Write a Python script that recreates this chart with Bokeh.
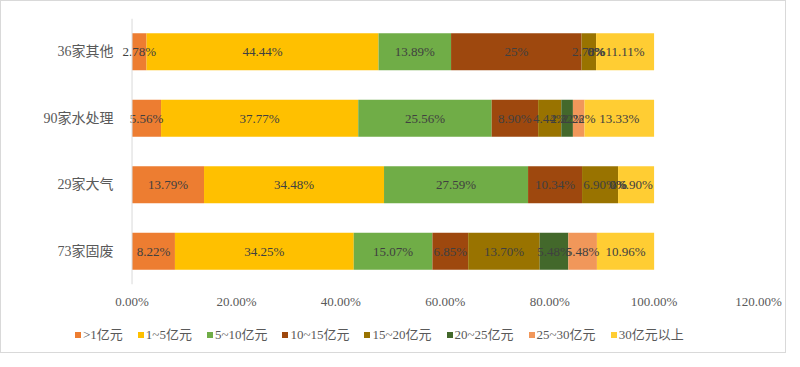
import html
from bokeh.plotting import figure
from bokeh.layouts import column
from bokeh.models import ColumnDataSource, FixedTicker, Range1d, Span, Div
from bokeh.embed import file_html
from bokeh.resources import INLINE
from bokeh.core.properties import value

# ---- data ----
categories = ["73家固废", "29家大气", "90家水处理", "36家其他"]
series_names = [">1亿元", "1~5亿元", "5~10亿元", "10~15亿元", "15~20亿元", "20~25亿元", "25~30亿元", "30亿元以上"]
v_gt1 = [8.22, 13.79, 5.56, 2.78]
v_1_5 = [34.25, 34.48, 37.77, 44.44]
v_5_10 = [15.07, 27.59, 25.56, 13.89]
v_10_15 = [6.85, 10.34, 8.90, 25]
v_15_20 = [13.70, 6.90, 4.44, 2.78]
v_20_25 = [5.48, 0, 2.22, 0]
v_25_30 = [5.48, 0, 2.22, 0]
v_30plus = [10.96, 6.90, 13.33, 11.11]
x_ticks = [0, 20, 40, 60, 80, 100, 120]
x_tick_labels = ["0.00%", "20.00%", "40.00%", "60.00%", "80.00%", "100.00%", "120.00%"]
colors = ["#ED7D31", "#FFC000", "#70AD47", "#9E480E", "#997300", "#43682B", "#F1975A", "#FFCD33"]

series = [v_gt1, v_1_5, v_5_10, v_10_15, v_15_20, v_20_25, v_25_30, v_30plus]
keys = ["s%d" % i for i in range(len(series))]

SERIF = "Liberation Serif, 'Noto Sans CJK SC'"

data = {"cat": categories}
for k, s in zip(keys, series):
    data[k] = s
source = ColumnDataSource(data)

p = figure(width=784, height=320, y_range=categories, x_range=Range1d(-2.4, 120),
           output_backend="svg", toolbar_location=None,
           min_border_left=118, min_border_right=27, min_border_top=17, min_border_bottom=37)

renderers = p.hbar_stack(keys, y="cat", height=0.56, color=colors, source=source, line_color=None)

# vertical axis line at x = 0
p.add_layout(Span(location=0, dimension="height", line_color="#d9d9d9", line_width=1))

def fmt(v):
    if float(v).is_integer():
        return "%d%%" % int(v)
    return "%.2f%%" % v

lx, ly, lt = [], [], []
for ci, c in enumerate(categories):
    left = 0.0
    for s in series:
        v = s[ci]
        lx.append(left + v / 2.0)
        ly.append(c)
        lt.append(fmt(v))
        left += v
lsrc = ColumnDataSource(dict(x=lx, y=ly, t=lt))
p.text(x="x", y="y", text="t", source=lsrc, text_align="center", text_baseline="middle",
       text_font=value(SERIF), text_font_size="13px", text_color="#404040")

p.xgrid.visible = False
p.ygrid.visible = False
p.outline_line_color = None

xa = p.xaxis[0]
xa.ticker = FixedTicker(ticks=x_ticks)
xa.major_label_overrides = {t: l for t, l in zip(x_ticks, x_tick_labels)}
xa.axis_line_color = None
xa.major_tick_line_color = None
xa.minor_tick_line_color = None
xa.major_label_text_font = SERIF
xa.major_label_text_font_size = "13px"
xa.major_label_text_color = "#595959"
xa.major_label_standoff = 3

ya = p.yaxis[0]
ya.axis_line_color = None
ya.major_tick_line_color = None
ya.minor_tick_line_color = None
ya.major_label_text_font = SERIF
ya.major_label_text_font_size = "14px"
ya.major_label_text_color = "#595959"
ya.major_label_standoff = 0

# legend (HTML text)
parts = []
for n, c in zip(series_names, colors):
    parts.append(
        '<span style="display:inline-flex;align-items:center;margin-right:15px;">'
        '<span style="display:inline-block;width:6px;height:6px;background:%s;margin-right:2px;"></span>'
        '%s</span>' % (c, html.escape(n)))
legend_html = ('<div style="display:flex;align-items:center;white-space:nowrap;'
               'font-family:\'Liberation Serif\',\'Noto Sans CJK SC\',serif;font-size:13px;'
               'line-height:17px;color:#595959;padding-left:74px;padding-top:5px;">'
               + "".join(parts) + '</div>')
legend_div = Div(text=legend_html, width=784, height=31, margin=(0, 0, 0, 0))

layout = column(p, legend_div, spacing=0)
layout.styles = {"border": "1px solid #d9d9d9"}

open("out.html", "w").write(file_html(layout, INLINE))
